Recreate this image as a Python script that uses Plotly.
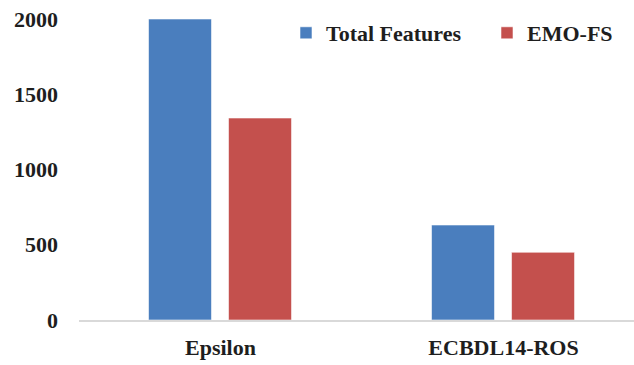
import plotly.graph_objects as go

# Feature counts per dataset
datasets = ["Epsilon", "ECBDL14-ROS"]
total_features = [2000, 631]
emo_fs = [1342, 450]
y_ticks = [0, 500, 1000, 1500, 2000]

BLUE = "#4A7EBE"
RED = "#C4504D"
TEXT = "#1E1E1E"
FONT = "Liberation Serif, Times New Roman, serif"
TICK_FONT = dict(family=FONT, size=22, color=TEXT, weight="bold")

fig = go.Figure()
fig.add_trace(go.Bar(
    x=datasets, y=total_features, name="Total Features",
    marker=dict(color=BLUE, line=dict(color="rgba(255,255,255,0.7)", width=0.8)),
    width=0.2226, offset=-0.2544, legend="legend",
))
fig.add_trace(go.Bar(
    x=datasets, y=emo_fs, name="EMO-FS",
    marker=dict(color=RED, line=dict(color="rgba(255,255,255,0.7)", width=0.8)),
    width=0.2226, offset=0.0283, legend="legend2",
))

legend_common = dict(
    orientation="h", xref="container", yref="container",
    xanchor="left", yanchor="middle", y=1 - 33 / 365,
    font=TICK_FONT, bgcolor="rgba(0,0,0,0)", itemclick=False,
    borderwidth=0,
)

fig.update_layout(
    width=634, height=365,
    margin=dict(l=79, r=0, t=19, b=45, autoexpand=False),
    paper_bgcolor="white", plot_bgcolor="white",
    font=TICK_FONT,
    barmode="group",
    showlegend=True,
    legend=dict(legend_common, x=286 / 634),
    legend2=dict(legend_common, x=487 / 634),
    xaxis=dict(
        range=[-0.5, 1.461], showgrid=False, zeroline=False,
        showline=True, linecolor="#D9D9D9", linewidth=1.5,
        ticks="", ticklabelstandoff=7, automargin=False,
        tickfont=TICK_FONT,
    ),
    yaxis=dict(
        range=[0, 2000], tickvals=y_ticks, showgrid=False, zeroline=False,
        showline=False, ticks="", ticklabelstandoff=20, automargin=False,
        tickfont=TICK_FONT,
    ),
)

fig.write_html("out.html")
